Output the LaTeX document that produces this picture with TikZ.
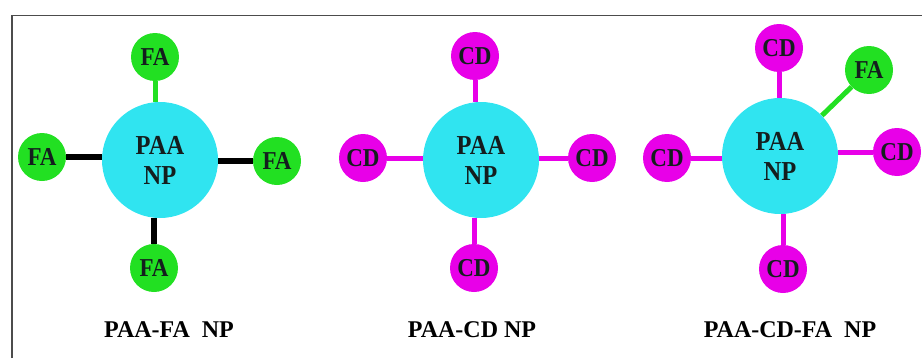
\documentclass[tikz,border=0pt]{standalone}
\usepackage{fontspec}
\setmainfont{Liberation Serif}
\definecolor{coreblue}{RGB}{48,228,240}
\definecolor{fagreen}{RGB}{34,224,34}
\definecolor{cdpink}{RGB}{232,0,232}
\definecolor{inktext}{RGB}{20,30,30}
% slightly tall lettering
\newcommand{\tallword}[1]{\scalebox{1}[1.12]{#1}}
\tikzset{
  core/.style={circle, fill=coreblue, minimum size=116pt, inner sep=0pt,
    font=\fontsize{24.5}{30}\selectfont\bfseries, text=inktext, align=center},
  fa/.style={circle, fill=fagreen, minimum size=48pt, inner sep=0pt,
    font=\fontsize{23}{24}\selectfont\bfseries, text=inktext},
  cd/.style={circle, fill=cdpink, minimum size=48pt, inner sep=0pt,
    font=\fontsize{23}{24}\selectfont\bfseries, text=inktext},
  blackarm/.style={line width=6.5pt, black},
  greenarm/.style={line width=5pt, fagreen},
  pinkarm/.style={line width=5pt, cdpink},
  caption/.style={font=\fontsize{24}{26}\selectfont\bfseries, text=black},
}
\begin{document}
\begin{tikzpicture}[x=1pt, y=-1pt]
\useasboundingbox (0,0) rectangle (922,359);
% frame edges
\draw[line width=1.5pt, black!70] (12,358) -- (12,15.5) -- (922,15.5);

% PAA-FA NP
\node[core] (c1) at (160,160) {\tallword{PAA}\\\tallword{NP}};
\node[fa] (f1t) at (155,57) {\tallword{FA}};
\node[fa] (f1l) at (42,157) {\tallword{FA}};
\node[fa] (f1r) at (277,161) {\tallword{FA}};
\node[fa] (f1b) at (154,268) {\tallword{FA}};
\draw[greenarm] (f1t) -- (f1t |- c1.north);
\draw[blackarm] (f1l) -- (c1.west |- f1l);
\draw[blackarm] (f1r) -- (c1.east |- f1r);
\draw[blackarm] (f1b) -- (f1b |- c1.south);
\node[caption] (t1) at (169,330) {PAA-FA\ \ NP};

% PAA-CD NP
\node[core] (c2) at (481,160) {\tallword{PAA}\\\tallword{NP}};
\node[cd] (d2t) at (475,56) {\tallword{CD}};
\node[cd] (d2l) at (363,158) {\tallword{CD}};
\node[cd] (d2r) at (592,158) {\tallword{CD}};
\node[cd] (d2b) at (474,268) {\tallword{CD}};
\draw[pinkarm] (d2t) -- (d2t |- c2.north);
\draw[pinkarm] (d2l) -- (c2.west |- d2l);
\draw[pinkarm] (d2r) -- (c2.east |- d2r);
\draw[pinkarm] (d2b) -- (d2b |- c2.south);
\node[caption] (t2) at (472,330) {PAA-CD NP};

% PAA-CD-FA NP
\node[core] (c3) at (780,156) {\tallword{PAA}\\\tallword{NP}};
\node[cd] (d3t) at (779,48) {\tallword{CD}};
\node[fa] (f3) at (869,70) {\tallword{FA}};
\node[cd] (d3l) at (667,158) {\tallword{CD}};
\node[cd] (d3r) at (897,152) {\tallword{CD}};
\node[cd] (d3b) at (783,269) {\tallword{CD}};
\draw[pinkarm] (d3t) -- (d3t |- c3.north);
\draw[greenarm] (f3) -- (c3);
\draw[pinkarm] (d3l) -- (c3.west |- d3l);
\draw[pinkarm] (d3r) -- (c3.east |- d3r);
\draw[pinkarm] (d3b) -- (d3b |- c3.south);
\node[caption] (t3) at (790,330) {PAA-CD-FA\ \ NP};
\end{tikzpicture}
\end{document}
